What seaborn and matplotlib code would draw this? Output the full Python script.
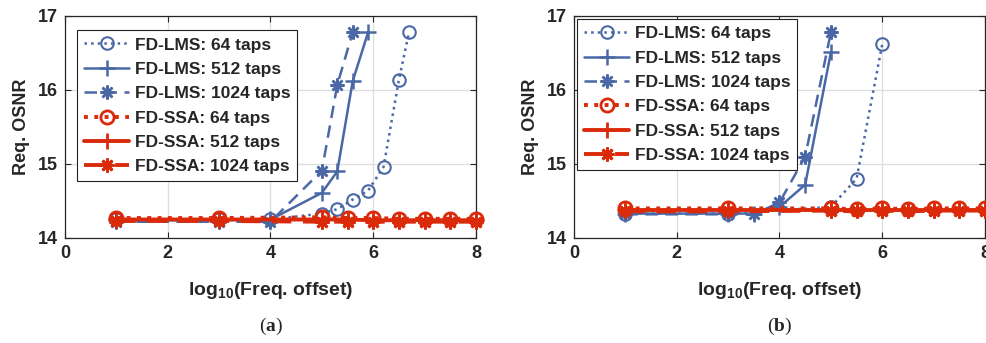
import matplotlib
matplotlib.use("Agg")
import matplotlib.pyplot as plt
import seaborn as sns
import pandas as pd

# ---------------- data ----------------
# panel (a)
a_lms64_x = [1, 3, 4, 5, 5.3, 5.6, 5.9, 6.2, 6.5, 6.7]
a_lms64_y = [14.25, 14.25, 14.25, 14.33, 14.39, 14.52, 14.64, 14.96, 16.14, 16.79]
a_lms512_x = [1, 3, 4, 5, 5.3, 5.6, 5.9]
a_lms512_y = [14.24, 14.24, 14.25, 14.61, 14.90, 16.12, 16.78]
a_lms1024_x = [1, 3, 4, 5, 5.3, 5.6]
a_lms1024_y = [14.22, 14.22, 14.22, 14.91, 16.07, 16.78]
a_ssa_x = [1, 3, 5, 5.5, 6, 6.5, 7, 7.5, 8]
a_ssa64_y = [14.27, 14.27, 14.28, 14.27, 14.27, 14.26, 14.26, 14.26, 14.26]
a_ssa512_y = [14.25, 14.25, 14.25, 14.25, 14.24, 14.24, 14.24, 14.24, 14.24]
a_ssa1024_y = [14.23, 14.23, 14.22, 14.22, 14.22, 14.22, 14.22, 14.22, 14.22]

# panel (b)
b_lms64_x = [1, 3, 5, 5.5, 6]
b_lms64_y = [14.33, 14.33, 14.42, 14.80, 16.62]
b_lms512_x = [1, 3, 3.5, 4, 4.5, 5]
b_lms512_y = [14.33, 14.33, 14.33, 14.42, 14.72, 16.51]
b_lms1024_x = [1, 3, 3.5, 4, 4.5, 5]
b_lms1024_y = [14.32, 14.32, 14.32, 14.48, 15.10, 16.78]
b_ssa_x = [1, 3, 5, 5.5, 6, 6.5, 7, 7.5, 8]
b_ssa64_y = [14.40, 14.40, 14.40, 14.39, 14.40, 14.39, 14.40, 14.40, 14.40]
b_ssa512_y = [14.38, 14.38, 14.38, 14.38, 14.38, 14.38, 14.38, 14.38, 14.38]
b_ssa1024_y = [14.36, 14.36, 14.37, 14.36, 14.37, 14.36, 14.37, 14.37, 14.37]

labels = ["FD-LMS: 64 taps", "FD-LMS: 512 taps", "FD-LMS: 1024 taps",
          "FD-SSA: 64 taps", "FD-SSA: 512 taps", "FD-SSA: 1024 taps"]
x_ticks = [0, 2, 4, 6, 8]
y_ticks = [14, 15, 16, 17]

# ---------------- style ----------------
sns.set_style("ticks")
plt.rcParams["font.family"] = ["Liberation Sans", "DejaVu Sans"]
plt.rcParams["mathtext.fontset"] = "custom"
plt.rcParams["mathtext.rm"] = "Liberation Sans"
plt.rcParams["mathtext.sf"] = "Liberation Sans:bold"
plt.rcParams["mathtext.bf"] = "Liberation Serif:bold"

BLUE = "#4b68a6"
RED = "#da2a0a"
AST = (8, 2, 0)

styles = [
    dict(color=BLUE, linestyle=":", marker="o", mfc="none", mec=BLUE, lw=1.8, ms=9, mew=1.5),
    dict(color=BLUE, linestyle="-", marker="+", mec=BLUE, lw=1.8, ms=11, mew=1.8),
    dict(color=BLUE, linestyle=(0, (5, 3)), marker=AST, mec=BLUE, lw=1.8, ms=10, mew=1.8),
    dict(color=RED, linestyle=":", marker="o", mfc="none", mec=RED, lw=2.8, ms=9.5, mew=2.0),
    dict(color=RED, linestyle="-", marker="+", mec=RED, lw=2.8, ms=11, mew=2.0),
    dict(color=RED, linestyle=(0, (5, 3)), marker=AST, mec=RED, lw=2.8, ms=10, mew=2.0),
]

panels = [
    [(a_lms64_x, a_lms64_y), (a_lms512_x, a_lms512_y), (a_lms1024_x, a_lms1024_y),
     (a_ssa_x, a_ssa64_y), (a_ssa_x, a_ssa512_y), (a_ssa_x, a_ssa1024_y)],
    [(b_lms64_x, b_lms64_y), (b_lms512_x, b_lms512_y), (b_lms1024_x, b_lms1024_y),
     (b_ssa_x, b_ssa64_y), (b_ssa_x, b_ssa512_y), (b_ssa_x, b_ssa1024_y)],
]

fig = plt.figure(figsize=(9.87, 3.43), dpi=100)
ax_pos = [[65 / 987, 105 / 343, 411 / 987, 222 / 343],
          [574 / 987, 105 / 343, 411 / 987, 222 / 343]]
captions = ["a", "b"]

for p, (series, pos) in enumerate(zip(panels, ax_pos)):
    ax = fig.add_axes(pos)
    for (xs, ys), st, lab in zip(series, styles, labels):
        df = pd.DataFrame({"x": xs, "y": ys})
        sns.lineplot(data=df, x="x", y="y", ax=ax, label=lab, sort=False,
                     clip_on=False, zorder=3, **st)
    ax.set_xlim(0, 8)
    ax.set_ylim(14, 17)
    ax.set_xticks(x_ticks)
    ax.set_yticks(y_ticks)
    ax.grid(True, color="#dedede", lw=0.9)
    ax.set_axisbelow(True)
    for s in ax.spines.values():
        s.set_color("#262626")
        s.set_linewidth(0.9)
    ax.tick_params(direction="in", top=True, right=True, length=4, width=0.8,
                   color="#262626", labelsize=13, pad=5)
    for t in ax.get_xticklabels() + ax.get_yticklabels():
        t.set_fontweight("bold")
    ax.set_ylabel("Req. OSNR", fontsize=13, fontweight="bold", labelpad=6)
    ax.set_xlabel(r"log$_{\mathsf{10}}$(Freq. offset)", fontsize=14,
                  fontweight="bold", labelpad=13)
    leg = ax.legend(loc="upper left",
                    bbox_to_anchor=(0.03 if p == 0 else 0.008, 0.935 if p == 0 else 0.985),
                    prop={"weight": "bold", "size": 12.5},
                    frameon=True, fancybox=False, edgecolor="#222222",
                    framealpha=1, borderpad=0.4, labelspacing=0.53,
                    handlelength=2.6, handletextpad=0.3, borderaxespad=0.0)
    leg.get_frame().set_linewidth(0.8)
    cx = pos[0] + pos[2] / 2
    fig.text(cx, 17 / 343, r"($\mathbf{%s}$)" % captions[p], ha="center", va="center",
             fontsize=14, family=["Liberation Serif"])

fig.savefig("out.png", dpi=100)
